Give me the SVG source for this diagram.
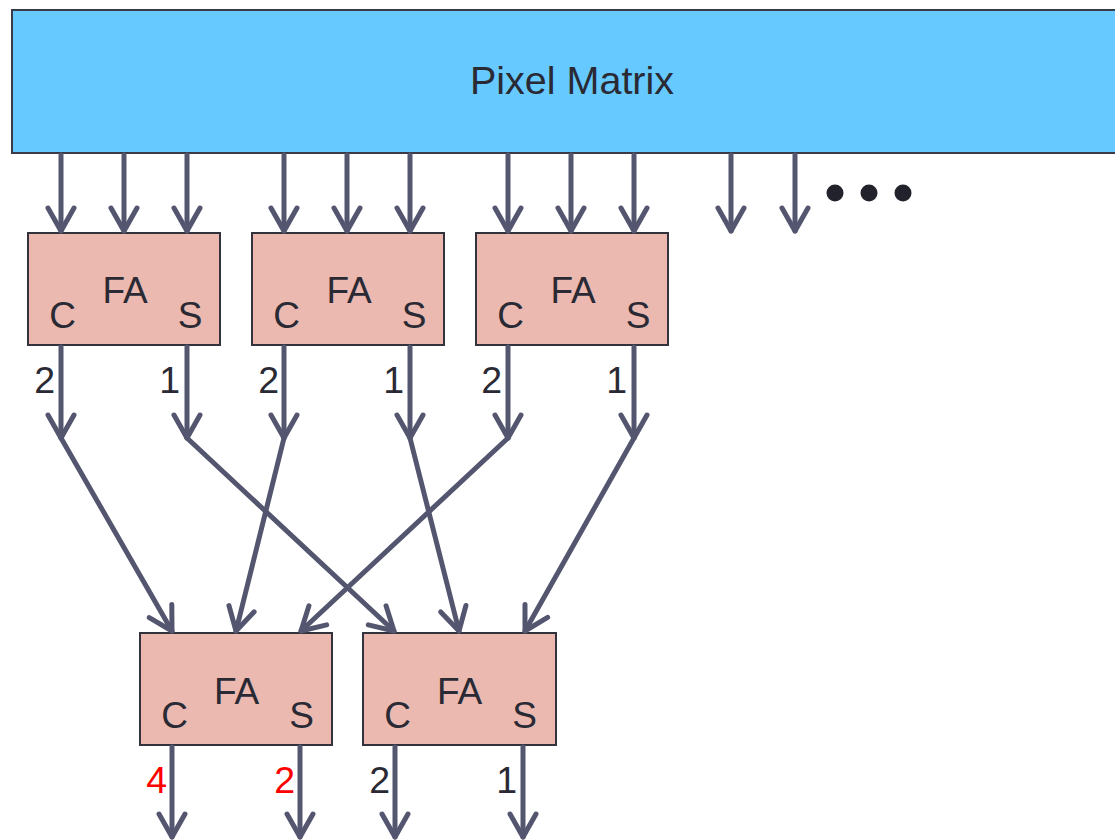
<svg xmlns="http://www.w3.org/2000/svg" width="1115" height="840" viewBox="0 0 1115 840">
<style>
.box{fill:#ebb9b0;stroke:#33333d;stroke-width:2}
.pm{fill:#66c9ff;stroke:#3a3a48;stroke-width:2}
.t{font-family:"Liberation Sans",Arial,sans-serif;fill:#2a2a35;font-size:37px}
.big{font-size:39.5px}
.num{font-size:37.5px}
.red{fill:#ff0000}
.c{text-anchor:middle}
.e{text-anchor:end}
.ln{stroke:#545670;stroke-width:5;stroke-linecap:round;fill:none;marker-end:url(#ah)}
.dot{fill:#22222c}
</style>
<defs>
<marker id="ah" markerUnits="userSpaceOnUse" markerWidth="40" markerHeight="40" viewBox="-30 -20 40 40" refX="0" refY="0" orient="auto" overflow="visible">
<path d="M-23,-13 L0,0 L-23,13" fill="none" stroke="#545670" stroke-width="5" stroke-linecap="round" stroke-linejoin="round"/>
</marker>
</defs>

<g id="pixel-matrix">
<rect class="pm" x="12" y="10" width="1120" height="143"/>
<text class="t big c" x="572" y="94">Pixel Matrix</text>
</g>

<g id="ellipsis">
<circle class="dot" cx="835" cy="193" r="8.5"/>
<circle class="dot" cx="869" cy="193" r="8.5"/>
<circle class="dot" cx="903" cy="193" r="8.5"/>
</g>

<g id="fa1">
<rect class="box" x="28" y="233" width="192" height="112"/>
<text class="t c" x="125" y="303">FA</text>
<text class="t c" x="62.5" y="328">C</text>
<text class="t c" x="190" y="328">S</text>
</g>
<g id="fa2">
<rect class="box" x="252" y="233" width="192" height="112"/>
<text class="t c" x="349" y="303">FA</text>
<text class="t c" x="286.5" y="328">C</text>
<text class="t c" x="414" y="328">S</text>
</g>
<g id="fa3">
<rect class="box" x="476" y="233" width="192" height="112"/>
<text class="t c" x="573" y="303">FA</text>
<text class="t c" x="510.5" y="328">C</text>
<text class="t c" x="638" y="328">S</text>
</g>
<g id="fa4">
<rect class="box" x="140" y="633" width="192" height="112"/>
<text class="t c" x="236.5" y="704">FA</text>
<text class="t c" x="174.5" y="728">C</text>
<text class="t c" x="301.5" y="728">S</text>
</g>
<g id="fa5">
<rect class="box" x="363" y="633" width="193" height="112"/>
<text class="t c" x="459.5" y="704">FA</text>
<text class="t c" x="397.5" y="728">C</text>
<text class="t c" x="524.5" y="728">S</text>
</g>

<g id="connectors">
<line class="ln" x1="61" y1="155" x2="61" y2="231"/>
<line class="ln" x1="124" y1="155" x2="124" y2="231"/>
<line class="ln" x1="187" y1="155" x2="187" y2="231"/>
<line class="ln" x1="284" y1="155" x2="284" y2="231"/>
<line class="ln" x1="347" y1="155" x2="347" y2="231"/>
<line class="ln" x1="410" y1="155" x2="410" y2="231"/>
<line class="ln" x1="508" y1="155" x2="508" y2="231"/>
<line class="ln" x1="571" y1="155" x2="571" y2="231"/>
<line class="ln" x1="634" y1="155" x2="634" y2="231"/>
<line class="ln" x1="731" y1="155" x2="731" y2="231"/>
<line class="ln" x1="795" y1="155" x2="795" y2="231"/>

<line class="ln" x1="61" y1="347" x2="61" y2="438"/>
<line class="ln" x1="187" y1="347" x2="187" y2="438"/>
<line class="ln" x1="284" y1="347" x2="284" y2="438"/>
<line class="ln" x1="410" y1="347" x2="410" y2="438"/>
<line class="ln" x1="508" y1="347" x2="508" y2="438"/>
<line class="ln" x1="634" y1="347" x2="634" y2="438"/>

<line class="ln" x1="61" y1="438" x2="172" y2="631"/>
<line class="ln" x1="187" y1="438" x2="394" y2="631"/>
<line class="ln" x1="284" y1="438" x2="236" y2="631"/>
<line class="ln" x1="410" y1="438" x2="459" y2="631"/>
<line class="ln" x1="508" y1="438" x2="301" y2="631"/>
<line class="ln" x1="634" y1="438" x2="525" y2="631"/>

<line class="ln" x1="172" y1="747" x2="172" y2="837"/>
<line class="ln" x1="300" y1="747" x2="300" y2="837"/>
<line class="ln" x1="395" y1="747" x2="395" y2="837"/>
<line class="ln" x1="523" y1="747" x2="523" y2="837"/>
</g>

<g id="labels">
<text class="t num e" x="55" y="393">2</text>
<text class="t num e" x="180" y="393">1</text>
<text class="t num e" x="279" y="393">2</text>
<text class="t num e" x="404" y="393">1</text>
<text class="t num e" x="502" y="393">2</text>
<text class="t num e" x="627" y="393">1</text>
<text class="t num e red" x="167" y="793">4</text>
<text class="t num e red" x="295" y="793">2</text>
<text class="t num e" x="390" y="793">2</text>
<text class="t num e" x="517" y="793">1</text>
</g>
</svg>
